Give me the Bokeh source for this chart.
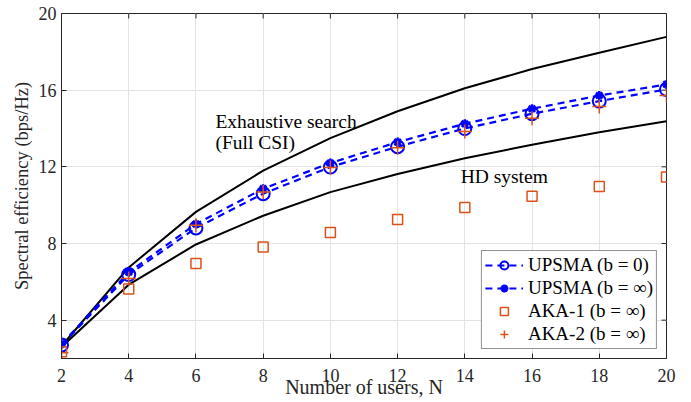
from bokeh.plotting import figure
from bokeh.models import Range1d, FixedTicker, Legend, LegendItem, Label
from bokeh.embed import file_html
from bokeh.resources import INLINE

N = [2, 4, 6, 8, 10, 12, 14, 16, 18, 20]
exhaustive = [2.65, 6.75, 9.65, 11.8, 13.5, 14.9, 16.1, 17.1, 17.95, 18.78]
hd_system = [2.6, 5.85, 7.95, 9.45, 10.68, 11.63, 12.45, 13.15, 13.8, 14.38]
upsma_b0 = [2.7, 6.38, 8.81, 10.6, 11.99, 13.05, 14.0, 14.77, 15.43, 16.04]
upsma_binf = [2.75, 6.5, 9.02, 10.86, 12.2, 13.29, 14.25, 15.03, 15.72, 16.3]
aka1 = [2.35, 5.62, 6.96, 7.82, 8.57, 9.25, 9.88, 10.46, 10.98, 11.47]
aka2 = [2.3, 6.17, 8.95, 10.69, 11.96, 13.0, 13.85, 14.54, 15.15, 15.72]

x_ticks = [2, 4, 6, 8, 10, 12, 14, 16, 18, 20]
y_ticks = [4, 8, 12, 16, 20]

FONT = "Liberation Serif"
BLUE = "#0000FF"
ORANGE = "#D95319"
AX = "#262626"

W, H = 691, 402
BL, BR, BT, BB = 61, 25, 13, 44
X0, X1, Y0, Y1 = 2, 20, 2, 20

p = figure(width=W, height=H, output_backend="svg", toolbar_location=None,
           x_range=Range1d(X0, X1), y_range=Range1d(Y0, Y1),
           min_border_left=BL, min_border_right=BR, min_border_top=BT, min_border_bottom=BB)
p.outline_line_color = AX
p.outline_line_width = 1

for ax in (p.xaxis[0], p.yaxis[0]):
    ax.major_tick_in = 5
    ax.major_tick_out = 0
    ax.minor_tick_line_color = None
    ax.axis_line_color = AX
    ax.major_tick_line_color = AX
    ax.major_label_text_font = FONT
    ax.major_label_text_font_size = "18px"
    ax.major_label_text_color = AX
    ax.axis_label_text_font = FONT
    ax.axis_label_text_font_style = "normal"
    ax.axis_label_text_color = AX

p.xaxis.ticker = FixedTicker(ticks=x_ticks)
p.yaxis.ticker = FixedTicker(ticks=y_ticks)
p.xaxis.axis_label = "Number of users, N"
p.yaxis.axis_label = "Spectral efficiency (bps/Hz)"
p.xaxis.axis_label_text_font_size = "20px"
p.yaxis.axis_label_text_font_size = "18.5px"
p.xaxis.major_label_standoff = 10
p.xaxis.axis_label_standoff = -9
p.yaxis.major_label_standoff = 5
p.yaxis.axis_label_standoff = 4

# inward ticks on the top and right edges of the box
fw = W - BL - BR
fh = H - BT - BB
tx = 5 * (X1 - X0) / fw
ty = 5 * (Y1 - Y0) / fh
p.segment(x0=x_ticks, y0=[Y1] * len(x_ticks), x1=x_ticks, y1=[Y1 - ty] * len(x_ticks),
          line_color=AX, line_width=1)
p.segment(x0=[X1] * len(y_ticks), y0=y_ticks, x1=[X1 - tx] * len(y_ticks), y1=y_ticks,
          line_color=AX, line_width=1)

p.xgrid.ticker = FixedTicker(ticks=x_ticks)
p.ygrid.ticker = FixedTicker(ticks=y_ticks)
p.grid.grid_line_color = "#e3e3e3"
p.grid.grid_line_width = 1

p.line(N, exhaustive, line_color="black", line_width=2)
p.line(N, hd_system, line_color="black", line_width=2)

l0 = p.line(N, upsma_b0, line_color=BLUE, line_width=2.2, line_dash="7 5")
m0 = p.scatter(N, upsma_b0, marker="circle", size=13, fill_color=None, line_color=BLUE, line_width=2)
l1 = p.line(N, upsma_binf, line_color=BLUE, line_width=2.2, line_dash="7 5")
m1 = p.scatter(N, upsma_binf, marker="asterisk", size=9, line_color=BLUE, line_width=2.5)
m2 = p.scatter(N, aka1, marker="square", size=10, fill_color=None, line_color=ORANGE, line_width=1.5)
m3 = p.scatter(N, aka2, marker="cross", size=14, line_color=ORANGE, line_width=1.5)

legend = Legend(items=[
    LegendItem(label="UPSMA (b = 0)", renderers=[l0, m0]),
    LegendItem(label="UPSMA (b = \u221e)", renderers=[l1, m1]),
    LegendItem(label="AKA-1 (b = \u221e)", renderers=[m2]),
    LegendItem(label="AKA-2 (b = \u221e)", renderers=[m3]),
], location="bottom_right")
legend.label_text_font = FONT
legend.label_text_font_size = "19px"
legend.label_text_color = "black"
legend.border_line_color = AX
legend.border_line_width = 1
legend.background_fill_color = "white"
legend.background_fill_alpha = 1
legend.glyph_width = 38
legend.glyph_height = 20
legend.label_height = 20
legend.label_standoff = 5
legend.spacing = 1
legend.padding = 3
legend.margin = 9
p.add_layout(legend)

p.add_layout(Label(x=6.58, y=14.37, text="Exhaustive search", text_font=FONT,
                   text_font_size="19.5px", text_baseline="alphabetic", text_color="black"))
p.add_layout(Label(x=6.58, y=13.29, text="(Full CSI)", text_font=FONT,
                   text_font_size="19.5px", text_baseline="alphabetic", text_color="black"))
p.add_layout(Label(x=13.875, y=11.5, text="HD system", text_font=FONT,
                   text_font_size="19.5px", text_baseline="alphabetic", text_color="black"))

open("out.html", "w").write(file_html(p, INLINE))
